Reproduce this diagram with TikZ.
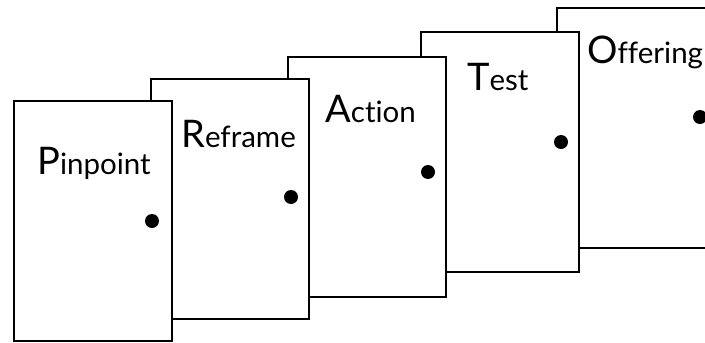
\documentclass[tikz,border=0pt]{standalone}
\usepackage{fontspec}
\setmainfont{Lato}[Ligatures={NoCommon}]
\newcommand{\Bg}[1]{{\fontsize{38}{40}\selectfont #1}}
\begin{document}
\begin{tikzpicture}[x=1pt,y=-1pt,
  door/.style={draw=black, fill=white, line width=2.9pt, rectangle, anchor=north west,
    minimum width=158pt, minimum height=240pt, inner sep=0pt, outer sep=0pt},
  knob/.style={circle, fill=black, minimum size=14pt, inner sep=0pt},
  lbl/.style={anchor=base west, inner sep=0pt, font=\fontsize{29.5}{30}\selectfont}]
\useasboundingbox (0,0) rectangle (705,343);
\node[door] (d5) at (557,8) {};
\node[door] (d4) at (421,32) {};
\node[door] (d3) at (288,57) {};
\node[door] (d2) at (151,79) {};
\node[door] (d1) at (14,101) {};
\node[knob] (k1) at (152,221) {};
\node[knob] (k2) at (291,197) {};
\node[knob] (k3) at (428,172) {};
\node[knob] (k4) at (561,142) {};
\node[knob] (k5) at (700,117) {};
\node[lbl] (t1) at (37,174) {\Bg{P}inpoint};
\node[lbl] (t2) at (181,147) {\Bg{R}eframe};
\node[lbl] (t3) at (325,122) {\Bg{A}ction};
\node[lbl] (t4) at (467,90) {\Bg{T}est};
\node[lbl] (t5) at (587,63) {\Bg{O}ffering};
\end{tikzpicture}
\end{document}
